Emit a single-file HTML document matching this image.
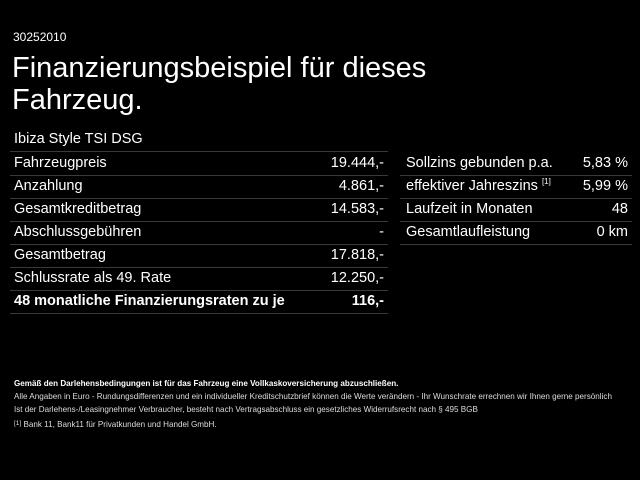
<!DOCTYPE html>
<html><head><meta charset="utf-8"><style>
body{margin:0;width:640px;height:480px;background:#000;color:#fff;font-family:"Liberation Sans",sans-serif;position:relative;overflow:hidden}
.a{position:absolute;white-space:nowrap}
.row{position:absolute;height:23px;border-bottom:1px solid #3a3a3a;font-size:14.5px;line-height:23px}
.row > span{position:absolute}
.r{right:4px}
.f{font-size:8.1px;color:#ddd}
.row .s{font-size:8px;position:relative;top:-6px;line-height:0}
</style></head><body>
<div class="a" style="left:13px;top:30px;font-size:12px">30252010</div>
<div class="a" style="left:12px;top:52px;font-size:29px;line-height:32px">Finanzierungsbeispiel für dieses<br>Fahrzeug.</div>
<div class="a" style="left:14px;top:131px;font-size:14.5px">Ibiza Style TSI DSG</div>
<div style="position:absolute;left:10px;top:151px;width:378px;border-top:1px solid #3a3a3a"></div>
<div class="row" style="left:10px;top:152px;width:378px"><span style="left:4px">Fahrzeugpreis</span><span class="r">19.444,-</span></div>
<div class="row" style="left:10px;top:175px;width:378px"><span style="left:4px">Anzahlung</span><span class="r">4.861,-</span></div>
<div class="row" style="left:10px;top:198px;width:378px"><span style="left:4px">Gesamtkreditbetrag</span><span class="r">14.583,-</span></div>
<div class="row" style="left:10px;top:221px;width:378px"><span style="left:4px">Abschlussgebühren</span><span class="r">-</span></div>
<div class="row" style="left:10px;top:244px;width:378px"><span style="left:4px">Gesamtbetrag</span><span class="r">17.818,-</span></div>
<div class="row" style="left:10px;top:267px;width:378px"><span style="left:4px">Schlussrate als 49. Rate</span><span class="r">12.250,-</span></div>
<div class="row" style="left:10px;top:290px;width:378px;font-weight:bold"><span style="left:4px">48 monatliche Finanzierungsraten zu je</span><span class="r">116,-</span></div>
<div class="row" style="left:400px;top:152px;width:232px"><span style="left:6px">Sollzins gebunden p.a.</span><span class="r">5,83 %</span></div>
<div class="row" style="left:400px;top:175px;width:232px"><span style="left:6px">effektiver Jahreszins <span class="s">[1]</span></span><span class="r">5,99 %</span></div>
<div class="row" style="left:400px;top:198px;width:232px"><span style="left:6px">Laufzeit in Monaten</span><span class="r">48</span></div>
<div class="row" style="left:400px;top:221px;width:232px"><span style="left:6px">Gesamtlaufleistung</span><span class="r">0 km</span></div>
<div class="a f" style="left:14px;top:379px;font-weight:bold;color:#fff">Gemäß den Darlehensbedingungen ist für das Fahrzeug eine Vollkaskoversicherung abzuschließen.</div>
<div class="a f" style="left:14px;top:392px">Alle Angaben in Euro - Rundungsdifferenzen und ein individueller Kreditschutzbrief können die Werte verändern - Ihr Wunschrate errechnen wir Ihnen gerne persönlich</div>
<div class="a f" style="left:14px;top:405px">Ist der Darlehens-/Leasingnehmer Verbraucher, besteht nach Vertragsabschluss ein gesetzliches Widerrufsrecht nach § 495 BGB</div>
<div class="a f" style="left:14px;top:420px"><span style="font-size:6.5px;position:relative;top:-2px">[1]</span> Bank 11, Bank11 für Privatkunden und Handel GmbH.</div>
</body></html>
